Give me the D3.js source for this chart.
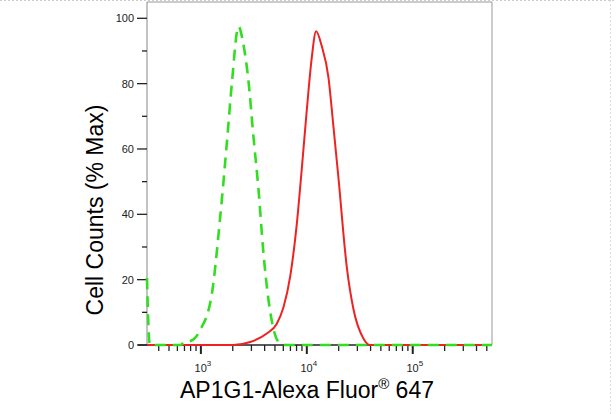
<!DOCTYPE html>
<html><head><meta charset="utf-8">
<script src="https://cdn.jsdelivr.net/npm/d3@7/dist/d3.min.js"></script>
<style>body{margin:0;background:#fff}svg{font-family:Arial,"Liberation Sans",sans-serif}</style>
</head><body><svg id="c" width="616" height="414"></svg>
<script>
const greenX = [310,318,330,638,700,794,870,985,1270,1520,1760,1960,2265,2520,2810,3130,3490,3900,4340,4840,5600,6500,560000];
const greenY = [20.5,8,0,0,0.8,1.2,2,4.6,15.7,39,62,80,97.5,92,81,64,48,28,14,5,0.5,0,0];
const redX = [310,2030,2920,4190,5210,6030,6970,8040,8970,10000,11140,12240,13830,15990,17820,19850,23820,27540,34200,39500,560000];
const redY = [0,0,0.9,3.5,6.5,11.6,21,37,54,72,88,96,91.5,82,67,51.5,24,11,2,0,0];
const yTicks = [0,20,40,60,80,100];
const xMajor = [1e3,1e4,1e5];

const svg = d3.select("#c");
const L=147,R=492,T=2,B=345;
const x = d3.scaleLog().domain([310,560000]).range([L,R]);
const y = d3.scaleLinear().domain([0,100]).range([B,18.3]);

svg.append("line").attr("x1",0).attr("x2",616).attr("y1",0.5).attr("y2",0.5).attr("stroke","#ccc").attr("stroke-dasharray","2,2");
svg.append("line").attr("x1",610.5).attr("x2",610.5).attr("y1",0).attr("y2",414).attr("stroke","#ddd").attr("stroke-dasharray","2,2");

svg.append("path").attr("d",`M${L},${T}H${R}V${B}`).attr("fill","none").attr("stroke","#999").attr("stroke-width",1);
svg.append("line").attr("x1",L).attr("x2",L).attr("y1",T).attr("y2",B).attr("stroke","#888");
svg.append("line").attr("x1",L-9).attr("x2",R).attr("y1",B).attr("y2",B).attr("stroke","#222").attr("stroke-width",1.5);

const ya = svg.append("g");
d3.range(0,101,10).forEach(v=>{
  ya.append("line").attr("x1",L-(v%20===0?10:5)).attr("x2",L).attr("y1",y(v)).attr("y2",y(v)).attr("stroke","#222").attr("stroke-width",1.3);
});
yTicks.forEach(v=>{
  ya.append("text").attr("x",L-13).attr("y",y(v)+4).attr("text-anchor","end").attr("font-size",11).attr("fill","#222").text(v);
});

const xa = svg.append("g");
const minor=[];
for(let e=2;e<=5;e++) for(let m=1;m<10;m++){const v=m*Math.pow(10,e); if(v>=310&&v<=560000) minor.push(v);}
minor.forEach(v=>{
  const maj = xMajor.includes(v);
  xa.append("line").attr("x1",x(v)).attr("x2",x(v)).attr("y1",B).attr("y2",B+(maj?9:6)).attr("stroke","#222").attr("stroke-width",maj?2:1.3);
});
xMajor.forEach((v,i)=>{
  const t = xa.append("text").attr("x",x(v)+2).attr("y",B+27).attr("text-anchor","middle").attr("font-size",11).attr("fill","#222");
  t.append("tspan").text("10");
  t.append("tspan").attr("dy",-6).attr("font-size",8).text(String(3+i));
});

const line = d3.line().x(d=>x(d[0])).y(d=>y(d[1])).curve(d3.curveMonotoneX);
svg.append("path").datum(redX.map((v,i)=>[v,redY[i]])).attr("d",line).attr("fill","none").attr("stroke","#ee2222").attr("stroke-width",2);
svg.append("path").datum(greenX.map((v,i)=>[v,greenY[i]])).attr("d",line).attr("fill","none").attr("stroke","#33dd22").attr("stroke-width",2.6).attr("stroke-dasharray","11,7");

svg.append("text").attr("transform","translate(103,210) rotate(-90)").attr("text-anchor","middle").attr("font-size",23).attr("fill","#000").text("Cell Counts (% Max)");
const xl = svg.append("text").attr("x",307).attr("y",398).attr("text-anchor","middle").attr("font-size",23).attr("fill","#000");
xl.append("tspan").text("AP1G1-Alexa Fluor");
xl.append("tspan").attr("dy",-9).attr("font-size",15).text("®");
xl.append("tspan").attr("dy",9).text(" 647");
</script></body></html>
